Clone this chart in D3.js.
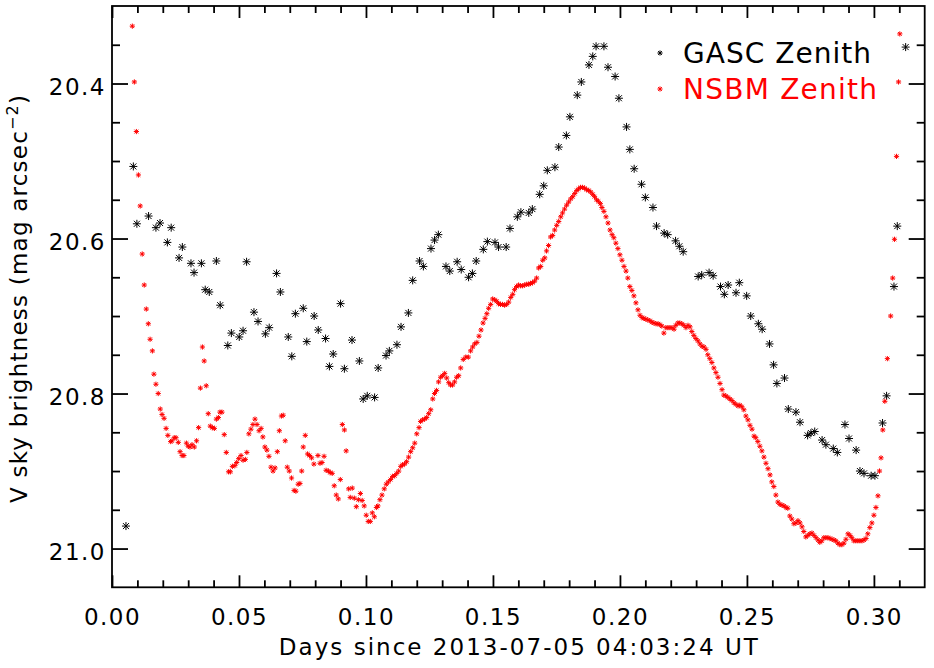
<!DOCTYPE html>
<html lang="en">
<head>
<meta charset="UTF-8">
<title>V sky brightness - GASC vs NSBM zenith</title>
<script src="https://d3js.org/d3.v7.min.js"></script>
<style>
  body { margin: 0; background: #fff; }
  svg text { font-family: "DejaVu Sans", sans-serif; }
</style>
</head>
<body>
<div id="chart"></div>
<script>
// GASC zenith: [days, mag arcsec^-2]
const gascPoints = [
  [0.0055,20.971],[0.0084,20.507],[0.0098,20.581],[0.0144,20.571],[0.0173,20.586],[0.0189,20.580],
  [0.0218,20.605],[0.0233,20.586],[0.0264,20.625],[0.0277,20.611],[0.0311,20.632],[0.0323,20.644],
  [0.0352,20.632],[0.0367,20.666],[0.0383,20.669],[0.0411,20.629],[0.0426,20.686],[0.0456,20.738],
  [0.0470,20.722],[0.0501,20.727],[0.0516,20.719],[0.0530,20.630],[0.0559,20.695],[0.0575,20.707],
  [0.0604,20.723],[0.0619,20.715],[0.0648,20.645],[0.0663,20.669],[0.0694,20.727],[0.0708,20.752],
  [0.0722,20.697],[0.0753,20.690],[0.0767,20.733],[0.0796,20.700],[0.0812,20.718],[0.0841,20.729],
  [0.0856,20.765],[0.0871,20.749],[0.0900,20.684],[0.0915,20.768],[0.0945,20.731],[0.0974,20.758],
  [0.0989,20.807],[0.1005,20.803],[0.1034,20.805],[0.1048,20.767],[0.1079,20.751],[0.1092,20.745],
  [0.1122,20.737],[0.1138,20.714],[0.1167,20.696],[0.1184,20.654],[0.1211,20.629],[0.1226,20.636],
  [0.1256,20.613],[0.1270,20.602],[0.1285,20.595],[0.1315,20.636],[0.1330,20.642],[0.1359,20.630],
  [0.1375,20.640],[0.1404,20.650],[0.1419,20.645],[0.1434,20.629],[0.1462,20.614],[0.1478,20.604],
  [0.1508,20.605],[0.1522,20.611],[0.1552,20.611],[0.1567,20.587],[0.1596,20.572],[0.1610,20.566],
  [0.1641,20.567],[0.1655,20.562],[0.1684,20.543],[0.1700,20.532],[0.1714,20.512],[0.1744,20.508],
  [0.1759,20.482],[0.1789,20.467],[0.1803,20.443],[0.1832,20.415],[0.1848,20.398],[0.1878,20.376],
  [0.1893,20.365],[0.1906,20.352],[0.1937,20.352],[0.1953,20.379],[0.1981,20.391],[0.1996,20.419],
  [0.2026,20.456],[0.2039,20.485],[0.2056,20.510],[0.2085,20.530],[0.2100,20.547],[0.2130,20.560],
  [0.2144,20.584],[0.2174,20.593],[0.2188,20.595],[0.2219,20.603],[0.2234,20.610],[0.2249,20.617],
  [0.2308,20.649],[0.2322,20.647],[0.2351,20.644],[0.2367,20.648],[0.2396,20.662],[0.2411,20.672],
  [0.2426,20.660],[0.2457,20.670],[0.2470,20.657],[0.2499,20.674],[0.2515,20.700],[0.2545,20.710],
  [0.2560,20.717],[0.2589,20.736],[0.2605,20.763],[0.2618,20.787],[0.2648,20.780],[0.2663,20.820],
  [0.2693,20.824],[0.2709,20.837],[0.2739,20.854],[0.2752,20.851],[0.2767,20.849],[0.2796,20.860],
  [0.2811,20.866],[0.2840,20.871],[0.2856,20.876],[0.2886,20.840],[0.2902,20.858],[0.2930,20.873],
  [0.2945,20.900],[0.2961,20.903],[0.2989,20.906],[0.3004,20.906],[0.3034,20.838],[0.3050,20.803],
  [0.3079,20.662],[0.3092,20.584],[0.3125,20.353]
];

// NSBM zenith: [days, mag arcsec^-2]
const nsbmPoints = [
  [0.0080,20.326],[0.0088,20.398],[0.0096,20.462],[0.0104,20.518],[0.0111,20.558],[0.0119,20.620],
  [0.0127,20.660],[0.0135,20.691],[0.0143,20.710],[0.0150,20.730],[0.0159,20.745],[0.0165,20.775],
  [0.0173,20.788],[0.0182,20.800],[0.0190,20.820],[0.0197,20.827],[0.0205,20.832],[0.0213,20.845],
  [0.0220,20.854],[0.0231,20.862],[0.0236,20.861],[0.0245,20.857],[0.0252,20.857],[0.0261,20.863],
  [0.0268,20.875],[0.0276,20.880],[0.0283,20.880],[0.0293,20.864],[0.0300,20.868],[0.0307,20.869],
  [0.0315,20.866],[0.0324,20.869],[0.0333,20.861],[0.0341,20.844],[0.0348,20.793],[0.0356,20.740],
  [0.0363,20.758],[0.0371,20.790],[0.0379,20.826],[0.0387,20.842],[0.0395,20.844],[0.0403,20.845],
  [0.0411,20.833],[0.0419,20.831],[0.0425,20.824],[0.0433,20.824],[0.0442,20.853],[0.0450,20.876],
  [0.0459,20.901],[0.0466,20.901],[0.0474,20.894],[0.0484,20.893],[0.0491,20.889],[0.0499,20.884],
  [0.0508,20.880],[0.0516,20.886],[0.0525,20.885],[0.0531,20.876],[0.0539,20.852],[0.0547,20.846],
  [0.0555,20.840],[0.0563,20.833],[0.0571,20.840],[0.0579,20.848],[0.0587,20.845],[0.0594,20.856],
  [0.0602,20.869],[0.0610,20.873],[0.0618,20.881],[0.0626,20.895],[0.0634,20.900],[0.0642,20.896],
  [0.0651,20.875],[0.0659,20.848],[0.0667,20.829],[0.0674,20.828],[0.0682,20.861],[0.0690,20.895],
  [0.0698,20.900],[0.0707,20.909],[0.0717,20.925],[0.0724,20.926],[0.0733,20.917],[0.0740,20.916],
  [0.0747,20.900],[0.0753,20.869],[0.0761,20.854],[0.0770,20.878],[0.0778,20.880],[0.0786,20.883],
  [0.0795,20.891],[0.0811,20.880],[0.0819,20.890],[0.0827,20.889],[0.0835,20.881],[0.0843,20.899],
  [0.0852,20.900],[0.0859,20.902],[0.0867,20.903],[0.0875,20.919],[0.0883,20.931],[0.0891,20.936],
  [0.0899,20.911],[0.0907,20.840],[0.0915,20.847],[0.0922,20.874],[0.0932,20.923],[0.0938,20.934],
  [0.0946,20.922],[0.0954,20.935],[0.0962,20.946],[0.0970,20.937],[0.0978,20.929],[0.0985,20.938],
  [0.0993,20.945],[0.1001,20.957],[0.1009,20.965],[0.1017,20.965],[0.1025,20.954],[0.1033,20.959],
  [0.1041,20.947],[0.1047,20.945],[0.1055,20.937],[0.1063,20.931],[0.1072,20.923],[0.1080,20.917],
  [0.1088,20.914],[0.1097,20.911],[0.1105,20.907],[0.1113,20.906],[0.1121,20.903],[0.1129,20.900],
  [0.1137,20.894],[0.1144,20.892],[0.1152,20.891],[0.1160,20.888],[0.1168,20.882],[0.1176,20.875],
  [0.1184,20.870],[0.1192,20.864],[0.1200,20.852],[0.1209,20.844],[0.1215,20.836],[0.1223,20.834],
  [0.1231,20.833],[0.1239,20.831],[0.1247,20.826],[0.1255,20.821],[0.1263,20.807],[0.1270,20.800],
  [0.1278,20.796],[0.1286,20.785],[0.1294,20.779],[0.1302,20.777],[0.1310,20.774],[0.1318,20.780],
  [0.1326,20.786],[0.1333,20.789],[0.1341,20.789],[0.1349,20.785],[0.1357,20.779],[0.1365,20.777],
  [0.1373,20.767],[0.1383,20.756],[0.1393,20.753],[0.1403,20.753],[0.1412,20.745],[0.1420,20.740],
  [0.1428,20.736],[0.1437,20.734],[0.1445,20.726],[0.1453,20.718],[0.1461,20.709],[0.1469,20.703],
  [0.1476,20.697],[0.1483,20.690],[0.1491,20.685],[0.1499,20.678],[0.1507,20.679],[0.1515,20.681],
  [0.1522,20.684],[0.1530,20.685],[0.1538,20.685],[0.1546,20.686],[0.1554,20.685],[0.1562,20.682],
  [0.1570,20.676],[0.1578,20.672],[0.1585,20.666],[0.1593,20.662],[0.1601,20.660],[0.1609,20.661],
  [0.1617,20.661],[0.1625,20.660],[0.1633,20.659],[0.1641,20.659],[0.1648,20.658],[0.1656,20.657],
  [0.1664,20.655],[0.1672,20.651],[0.1680,20.638],[0.1688,20.636],[0.1696,20.628],[0.1704,20.625],
  [0.1711,20.616],[0.1719,20.609],[0.1727,20.598],[0.1735,20.596],[0.1743,20.589],[0.1751,20.583],
  [0.1759,20.578],[0.1767,20.572],[0.1774,20.567],[0.1782,20.562],[0.1790,20.557],[0.1798,20.553],
  [0.1806,20.549],[0.1814,20.546],[0.1822,20.542],[0.1830,20.538],[0.1837,20.536],[0.1845,20.534],
  [0.1853,20.534],[0.1861,20.535],[0.1869,20.537],[0.1877,20.538],[0.1885,20.540],[0.1893,20.543],
  [0.1900,20.546],[0.1908,20.550],[0.1915,20.552],[0.1923,20.555],[0.1929,20.560],[0.1937,20.565],
  [0.1945,20.572],[0.1953,20.580],[0.1961,20.589],[0.1969,20.595],[0.1976,20.599],[0.1984,20.606],
  [0.1992,20.613],[0.2000,20.621],[0.2008,20.628],[0.2016,20.636],[0.2024,20.642],[0.2031,20.651],
  [0.2039,20.662],[0.2047,20.667],[0.2055,20.674],[0.2063,20.683],[0.2071,20.692],[0.2079,20.699],
  [0.2087,20.702],[0.2094,20.703],[0.2102,20.704],[0.2110,20.705],[0.2118,20.706],[0.2126,20.708],
  [0.2134,20.709],[0.2142,20.710],[0.2150,20.710],[0.2157,20.711],[0.2165,20.713],[0.2173,20.722],
  [0.2181,20.715],[0.2189,20.715],[0.2197,20.715],[0.2205,20.715],[0.2213,20.717],[0.2220,20.712],
  [0.2228,20.709],[0.2236,20.709],[0.2244,20.710],[0.2252,20.712],[0.2260,20.715],[0.2268,20.712],
  [0.2276,20.714],[0.2283,20.720],[0.2291,20.725],[0.2299,20.729],[0.2307,20.732],[0.2315,20.736],
  [0.2323,20.739],[0.2331,20.740],[0.2339,20.743],[0.2346,20.750],[0.2354,20.755],[0.2362,20.760],
  [0.2370,20.767],[0.2378,20.773],[0.2386,20.779],[0.2394,20.787],[0.2402,20.795],[0.2409,20.802],
  [0.2417,20.803],[0.2425,20.805],[0.2433,20.807],[0.2441,20.809],[0.2449,20.812],[0.2457,20.814],
  [0.2465,20.816],[0.2472,20.815],[0.2480,20.817],[0.2488,20.821],[0.2496,20.829],[0.2504,20.834],
  [0.2512,20.841],[0.2520,20.846],[0.2528,20.855],[0.2535,20.857],[0.2543,20.862],[0.2551,20.868],
  [0.2559,20.874],[0.2567,20.882],[0.2575,20.890],[0.2583,20.897],[0.2591,20.905],[0.2598,20.914],
  [0.2606,20.920],[0.2614,20.931],[0.2622,20.940],[0.2630,20.943],[0.2638,20.944],[0.2646,20.945],
  [0.2654,20.947],[0.2661,20.948],[0.2669,20.958],[0.2677,20.962],[0.2685,20.968],[0.2693,20.967],
  [0.2701,20.964],[0.2709,20.967],[0.2717,20.972],[0.2724,20.978],[0.2732,20.985],[0.2740,20.983],
  [0.2748,20.981],[0.2756,20.980],[0.2764,20.983],[0.2772,20.986],[0.2780,20.989],[0.2787,20.992],
  [0.2795,20.990],[0.2803,20.986],[0.2811,20.986],[0.2819,20.986],[0.2827,20.987],[0.2835,20.988],
  [0.2843,20.989],[0.2850,20.990],[0.2858,20.993],[0.2866,20.995],[0.2874,20.995],[0.2882,20.993],
  [0.2890,20.988],[0.2898,20.981],[0.2906,20.983],[0.2913,20.986],[0.2921,20.990],[0.2929,20.990],
  [0.2937,20.990],[0.2945,20.990],[0.2953,20.990],[0.2961,20.989],[0.2969,20.987],[0.2976,20.981],
  [0.2984,20.973],[0.2992,20.967],[0.3000,20.957],[0.3008,20.947],[0.3016,20.932],[0.3022,20.900],
  [0.3028,20.883],[0.3035,20.847],[0.3043,20.810],[0.3053,20.755],[0.3066,20.700],[0.3074,20.651],
  [0.3081,20.601],[0.3089,20.494],[0.3097,20.398],[0.3102,20.336]
];

const xMajorTicks = [0, 0.05, 0.10, 0.15, 0.20, 0.25, 0.30];
const xMinorTicks = [0.01, 0.02, 0.03, 0.04, 0.06, 0.07, 0.08, 0.09, 0.11, 0.12, 0.13, 0.14,
                     0.16, 0.17, 0.18, 0.19, 0.21, 0.22, 0.23, 0.24, 0.26, 0.27, 0.28, 0.29, 0.31];
const yMajorTicks = [20.4, 20.6, 20.8, 21.0];
const yMinorTicks = [20.35, 20.45, 20.5, 20.55, 20.65, 20.7, 20.75, 20.85, 20.9, 20.95];
const legendLabels = ['GASC Zenith', 'NSBM Zenith'];
const seriesColors = ['#000000', '#ff0000'];
const xTitle = 'Days since 2013-07-05 04:03:24 UT';

const W = 934, H = 668;
const plot = { left: 112, right: 924.7, top: 6, bottom: 587.3 };

const x = d3.scaleLinear().domain([0, 0.32]).range([plot.left, plot.right]);
const y = d3.scaleLinear().domain([20.3, 21.05]).range([plot.top, plot.bottom]);

const svg = d3.select('#chart').append('svg')
    .attr('width', W).attr('height', H)
    .attr('viewBox', `0 0 ${W} ${H}`);

// asterisk markers (IDL psym=2 look)
const starBig = 'M-4,0H4M0,-4V4M-3,-3L3,3M-3,3L3,-3';
const starSmall = 'M-2.6,0H2.6M0,-2.6V2.6M-1.9,-1.9L1.9,1.9M-1.9,1.9L1.9,-1.9';

function styleAxis(g, withText) {
    g.select('.domain').remove();
    g.selectAll('.tick line').attr('stroke', '#000').attr('stroke-width', 1.8);
    if (!withText) g.selectAll('.tick text').remove();
    g.selectAll('.tick text')
        .attr('fill', '#000')
        .attr('font-size', 23)
        .style('letter-spacing', '1.5px');
}

// bottom
svg.append('g').attr('transform', `translate(0,${plot.bottom})`)
    .call(d3.axisBottom(x).tickValues(xMajorTicks).tickSize(-12).tickPadding(21.4).tickFormat(d3.format('.2f')))
    .call(g => styleAxis(g, true));
svg.append('g').attr('transform', `translate(0,${plot.bottom})`)
    .call(d3.axisBottom(x).tickValues(xMinorTicks).tickSize(-7).tickFormat(''))
    .call(g => styleAxis(g, false));
// top
svg.append('g').attr('transform', `translate(0,${plot.top})`)
    .call(d3.axisTop(x).tickValues(xMajorTicks).tickSize(-12).tickFormat(''))
    .call(g => styleAxis(g, false));
svg.append('g').attr('transform', `translate(0,${plot.top})`)
    .call(d3.axisTop(x).tickValues(xMinorTicks).tickSize(-7).tickFormat(''))
    .call(g => styleAxis(g, false));
// left
svg.append('g').attr('transform', `translate(${plot.left},0)`)
    .call(d3.axisLeft(y).tickValues(yMajorTicks).tickSize(-16).tickPadding(6).tickFormat(d3.format('.1f')))
    .call(g => styleAxis(g, true))
    .call(g => g.selectAll('.tick text').attr('dy', '0.46em'));
svg.append('g').attr('transform', `translate(${plot.left},0)`)
    .call(d3.axisLeft(y).tickValues(yMinorTicks).tickSize(-8).tickFormat(''))
    .call(g => styleAxis(g, false));
// right
svg.append('g').attr('transform', `translate(${plot.right},0)`)
    .call(d3.axisRight(y).tickValues(yMajorTicks).tickSize(-16).tickFormat(''))
    .call(g => styleAxis(g, false));
svg.append('g').attr('transform', `translate(${plot.right},0)`)
    .call(d3.axisRight(y).tickValues(yMinorTicks).tickSize(-8).tickFormat(''))
    .call(g => styleAxis(g, false));

// frame
svg.append('rect')
    .attr('x', plot.left).attr('y', plot.top)
    .attr('width', plot.right - plot.left).attr('height', plot.bottom - plot.top)
    .attr('fill', 'none').attr('stroke', '#000').attr('stroke-width', 1.8);

// data
svg.append('g').selectAll('path')
    .data(gascPoints)
    .join('path')
    .attr('d', starBig)
    .attr('transform', d => `translate(${x(d[0])},${y(d[1])})`)
    .attr('fill', 'none').attr('stroke', seriesColors[0]).attr('stroke-width', 1);

svg.append('g').selectAll('path')
    .data(nsbmPoints)
    .join('path')
    .attr('d', starSmall)
    .attr('transform', d => `translate(${x(d[0])},${y(d[1])})`)
    .attr('fill', 'none').attr('stroke', seriesColors[1]).attr('stroke-width', 1);

// axis titles
svg.append('text')
    .attr('x', (plot.left + plot.right) / 2).attr('y', 655)
    .attr('text-anchor', 'middle').attr('font-size', 23)
    .attr('textLength', 479).attr('lengthAdjust', 'spacing')
    .text(xTitle);

const yTitle = svg.append('text')
    .attr('transform', 'rotate(-90)')
    .attr('x', -299).attr('y', 27)
    .attr('text-anchor', 'middle').attr('font-size', 23)
    .attr('textLength', 408).attr('lengthAdjust', 'spacing');
yTitle.append('tspan').text('V sky brightness (mag arcsec');
yTitle.append('tspan').attr('dy', -9).attr('font-size', 16).text('\u22122');
yTitle.append('tspan').attr('dy', 9).text(')');

// legend
const legendY = [53, 89];
const legend = svg.append('g');
legendLabels.forEach((label, i) => {
    legend.append('path')
        .attr('d', starSmall)
        .attr('transform', `translate(660,${legendY[i]})`)
        .attr('fill', 'none').attr('stroke', seriesColors[i]).attr('stroke-width', 1);
    legend.append('text')
        .attr('x', 683).attr('y', legendY[i] + 10)
        .attr('font-size', 28)
        .attr('fill', seriesColors[i])
        .attr('textLength', i === 0 ? 188 : 194).attr('lengthAdjust', 'spacing')
        .text(label);
});
</script>
</body>
</html>
